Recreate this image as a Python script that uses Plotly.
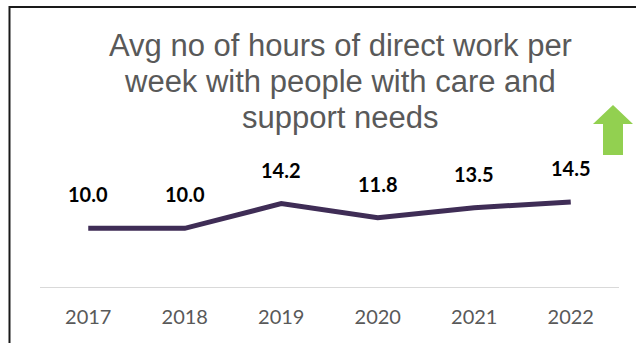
import plotly.graph_objects as go

# Survey years and average weekly hours of direct work
years = ["2017", "2018", "2019", "2020", "2021", "2022"]
hours = [10.0, 10.0, 14.2, 11.8, 13.5, 14.5]

title_lines = [
    "Avg no of hours of direct work per",
    "week with people with care and",
    "support needs",
]

W, H = 636, 343
ML, MR, MT, MB = 40, 17, 30, 56
PW, PH = W - ML - MR, H - MT - MB
Y_MAX = PH / 5.87

LINE_COLOR = "#3f2d56"
TEXT_GREY = "#595959"
ARROW_GREEN = "#92d050"


def px_x(px):
    return (px - ML) / PW


def px_y(py):
    return (H - MB - py) / PH


def path(points, close=False):
    d = "M " + " L ".join(f"{px_x(x):.5f},{px_y(y):.5f}" for x, y in points)
    return d + (" Z" if close else "")


fig = go.Figure()
fig.add_trace(go.Scatter(
    x=years, y=hours, mode="lines",
    line=dict(color=LINE_COLOR, width=5),
    hoverinfo="skip", showlegend=False,
))

annotations = []
# value labels above each point (x given as category index)
for i, v in enumerate(hours):
    annotations.append(dict(
        x=i, y=v, xref="x", yref="y", text=f"{v:.1f}",
        showarrow=False, yshift=34, yanchor="middle",
        font=dict(family="Lato", size=20, color="#000000", weight="bold"),
    ))

# chart title (three centred lines)
title_base = [65, 101, 137]
for line, base in zip(title_lines, title_base):
    annotations.append(dict(
        x=px_x(340), y=px_y(base), xref="paper", yref="paper",
        text=line, showarrow=False, xanchor="center", yanchor="bottom",
        font=dict(family="Liberation Sans", size=31, color=TEXT_GREY),
    ))

shapes = [
    # outer frame (top and left edges)
    dict(type="path", xref="paper", yref="paper",
         path=path([(9.5, 400), (9.5, 7), (700, 7)]),
         line=dict(color="#1a1a1a", width=2)),
    # upward trend arrow
    dict(type="path", xref="paper", yref="paper",
         path=path([(613, 105), (633, 124), (623, 124), (623, 155),
                    (603, 155), (603, 124), (593, 124)], close=True),
         fillcolor=ARROW_GREEN, line=dict(width=0)),
]

fig.update_layout(
    width=W, height=H,
    margin=dict(l=ML, r=MR, t=MT, b=MB),
    paper_bgcolor="white", plot_bgcolor="white",
    annotations=annotations, shapes=shapes,
    xaxis=dict(
        type="category", categoryorder="array", categoryarray=years,
        range=[-0.5, len(years) - 0.5], autorange=False,
        showgrid=False, zeroline=False,
        showline=True, linecolor="#d9d9d9", linewidth=1,
        ticks="", ticklabelstandoff=12,
        tickfont=dict(family="Lato", size=20, color=TEXT_GREY),
    ),
    yaxis=dict(range=[0, Y_MAX], autorange=False, visible=False),
)

fig.write_html("out.html")
